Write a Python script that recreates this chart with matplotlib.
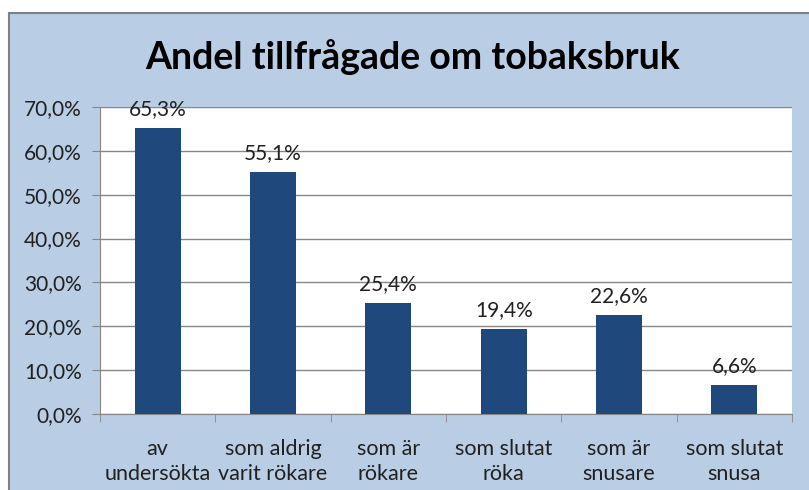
import matplotlib.pyplot as plt
from matplotlib.patches import Rectangle

categories = ["av\nundersökta", "som aldrig\nvarit rökare", "som är\nrökare",
              "som slutat\nröka", "som är\nsnusare", "som slutat\nsnusa"]
values = [65.3, 55.1, 25.4, 19.4, 22.6, 6.6]
yticks = [0, 10, 20, 30, 40, 50, 60, 70]

bg = '#B9CDE5'
bar_color = '#1F497D'
grid_color = '#868686'

plt.rcParams['font.family'] = ['Lato', 'DejaVu Sans']

fig = plt.figure(figsize=(8.09, 4.90), dpi=100)
W, H = 809, 490

# chart frame (light blue with gray border, cut off at right/bottom)
frame = Rectangle((9 / W, -0.05), 1.1, (490 - 13) / H + 0.05, transform=fig.transFigure,
                  facecolor=bg, edgecolor='#808080', linewidth=1.5, zorder=-1)
fig.patches.append(frame)

ax = fig.add_axes([100 / W, (H - 414) / H, (792 - 100) / W, (414 - 107) / H])
ax.set_facecolor('white')

x = range(len(categories))
ax.bar(x, values, width=0.4, color=bar_color, zorder=3)

for xi, v in zip(x, values):
    ax.text(xi, v + 2.0, f"{v:.1f}%".replace('.', ','), ha='center', va='bottom',
            fontsize=15, color='#202020')

ax.set_ylim(0, 70)
ax.set_xlim(-0.5, len(categories) - 0.5)
ax.set_yticks(yticks)
ax.set_yticklabels([f"{t:.1f}%".replace('.', ',') for t in yticks], fontsize=15, color='#202020')
ax.yaxis.grid(True, color=grid_color, linewidth=1, zorder=0)
ax.set_axisbelow(True)

ax.set_xticks(list(x))
ax.set_xticklabels(categories, fontsize=15.5, color='#202020', linespacing=1.3)
ax.set_xticks([i - 0.5 for i in range(len(categories) + 1)], minor=True)
ax.tick_params(axis='x', which='major', length=0, pad=18)
ax.tick_params(axis='x', which='minor', length=6, color=grid_color, direction='out')
ax.tick_params(axis='y', length=6, color=grid_color, direction='out', pad=7)

for side in ['top', 'right']:
    ax.spines[side].set_visible(False)
ax.spines['left'].set_color(grid_color)
ax.spines['bottom'].set_color(grid_color)

fig.text(413 / W, 1 - 57 / H, "Andel tillfrågade om tobaksbruk", ha='center', va='center',
         fontsize=27, fontweight='bold', color='black')

fig.savefig('out.png', dpi=100)
